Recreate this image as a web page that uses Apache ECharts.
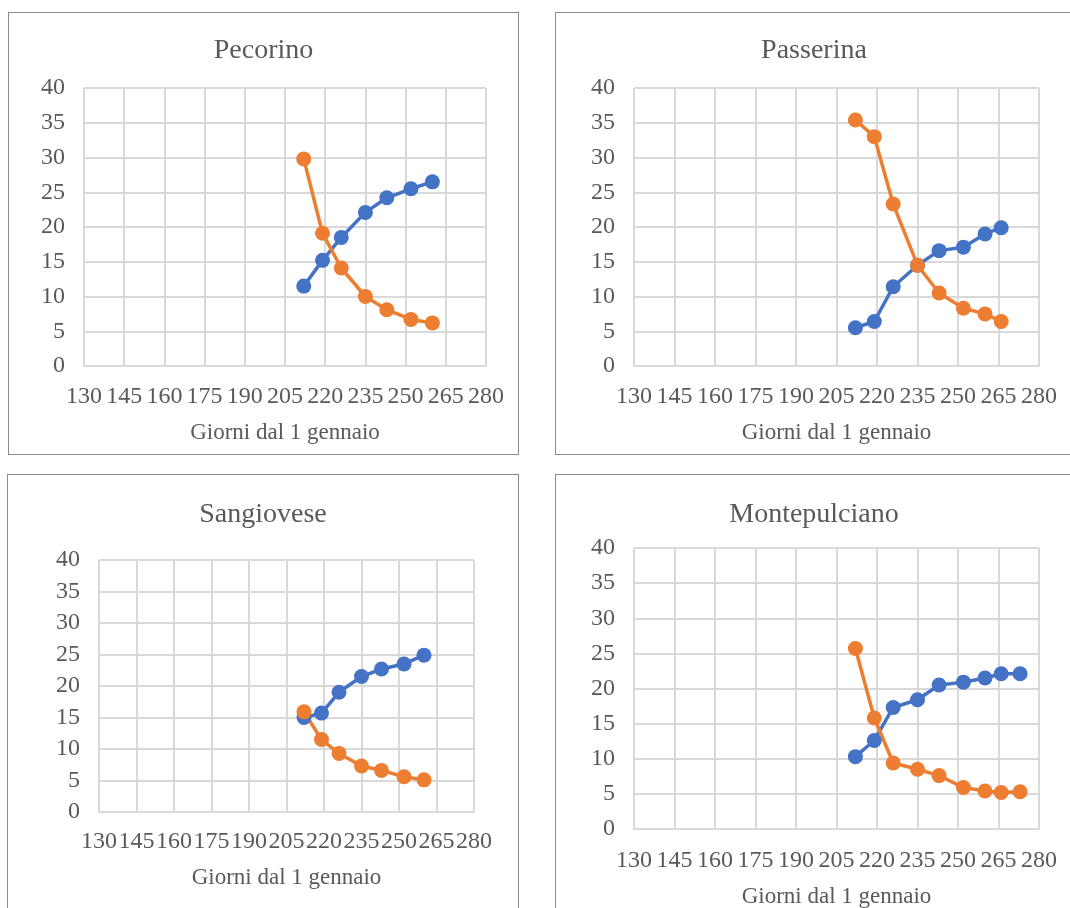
<!DOCTYPE html>
<html>
<head>
<meta charset="utf-8">
<script src="https://cdn.jsdelivr.net/npm/echarts@6/dist/echarts.min.js"></script>
<style>
    body{margin:0;background:#fff;width:1070px;height:908px;overflow:hidden;position:relative}
    .panel{position:absolute;border:1px solid #8c8c8c;box-sizing:border-box;background:#fff}
</style>
</head>
<body>
<div class="panel" id="p1" style="left:8px;top:12px;width:511px;height:443px"></div>
<div class="panel" id="p2" style="left:555px;top:12px;width:518px;height:443px"></div>
<div class="panel" id="p3" style="left:7px;top:474px;width:512px;height:450px"></div>
<div class="panel" id="p4" style="left:555px;top:474px;width:518px;height:450px"></div>
<script>
const titles = ["Pecorino","Passerina","Sangiovese","Montepulciano"]
const axisTitle = "Giorni dal 1 gennaio"

const pecorinoDays = [212,219,226,235,243,252,260]
const pecorinoBlue = [11.5,15.2,18.5,22.1,24.2,25.5,26.5]
const pecorinoOrange = [29.8,19.1,14.1,10.0,8.1,6.7,6.2]

const passerinaDays = [212,219,226,235,243,252,260,266]
const passerinaBlue = [5.5,6.4,11.4,14.5,16.6,17.1,19.0,19.9]
const passerinaOrange = [35.4,33.0,23.3,14.5,10.5,8.3,7.5,6.4]

const sangioveseDays = [212,219,226,235,243,252,260]
const sangioveseBlue = [15.0,15.7,19.0,21.5,22.7,23.5,24.9]
const sangioveseOrange = [15.9,11.5,9.3,7.3,6.6,5.6,5.1]

const montepulcianoDays = [212,219,226,235,243,252,260,266,273]
const montepulcianoBlue = [10.3,12.6,17.3,18.4,20.5,20.9,21.5,22.1,22.1]
const montepulcianoOrange = [25.7,15.8,9.4,8.5,7.6,5.9,5.4,5.2,5.3]

const xTicks = {min:130,max:280,interval:15}
const yTicks = {min:0,max:40,interval:5}

const font = "'Liberation Serif','Times New Roman',serif"
const textColor = "#595959"
const gridColor = "#d9d9d9"

const zip = (xs,ys) => xs.map((x,i)=>[x,ys[i]])

const makeSeries = (data,color) => ({
    type:"line",
    data:data,
    symbol:"circle",
    symbolSize:15,
    lineStyle:{color:color,width:3.5},
    itemStyle:{color:color},
    animation:false
})

// grid = [left,right,top,bottom]
const renderPanel = (id,title,days,blue,orange,grid,titleTop,labelMargin,nameGap) =>{
    const chart = echarts.init(document.getElementById(id),null,{renderer:"canvas"})
    chart.setOption({
        backgroundColor:"#fff",
        title:{
            text:title,
            left:"center",
            top:titleTop,
            textStyle:{fontFamily:font,fontSize:28,fontWeight:"normal",color:textColor}
        },
        grid:{left:grid[0],right:grid[1],top:grid[2],bottom:grid[3]},
        xAxis:{
            type:"value",
            min:xTicks.min,max:xTicks.max,interval:xTicks.interval,
            name:axisTitle,
            nameLocation:"middle",
            nameGap:nameGap,
            nameTextStyle:{fontFamily:font,fontSize:23,color:textColor},
            axisLine:{show:true,lineStyle:{color:gridColor,width:2}},
            axisTick:{show:false},
            axisLabel:{fontFamily:font,fontSize:24,color:textColor,margin:labelMargin,showMinLabel:true,showMaxLabel:true,hideOverlap:false},
            splitLine:{show:true,lineStyle:{color:gridColor,width:2}}
        },
        yAxis:{
            type:"value",
            min:yTicks.min,max:yTicks.max,interval:yTicks.interval,
            axisLine:{show:false},
            axisTick:{show:false},
            axisLabel:{fontFamily:font,fontSize:24,color:textColor,margin:19},
            splitLine:{show:true,lineStyle:{color:gridColor,width:2}}
        },
        series:[
            makeSeries(zip(days,blue),"#4472c4"),
            makeSeries(zip(days,orange),"#ed7d31")
        ]
    })
}

renderPanel("p1",titles[0],pecorinoDays,pecorinoBlue,pecorinoOrange,[75,32,75,88],19,19,55)
renderPanel("p2",titles[1],passerinaDays,passerinaBlue,passerinaOrange,[78,33,75,88],19,19,55)
renderPanel("p3",titles[2],sangioveseDays,sangioveseBlue,sangioveseOrange,[91,44,85,111],21,18,54)
renderPanel("p4",titles[3],montepulcianoDays,montepulcianoBlue,montepulcianoOrange,[78,33,73,94],21,20,56)
</script>
</body>
</html>
